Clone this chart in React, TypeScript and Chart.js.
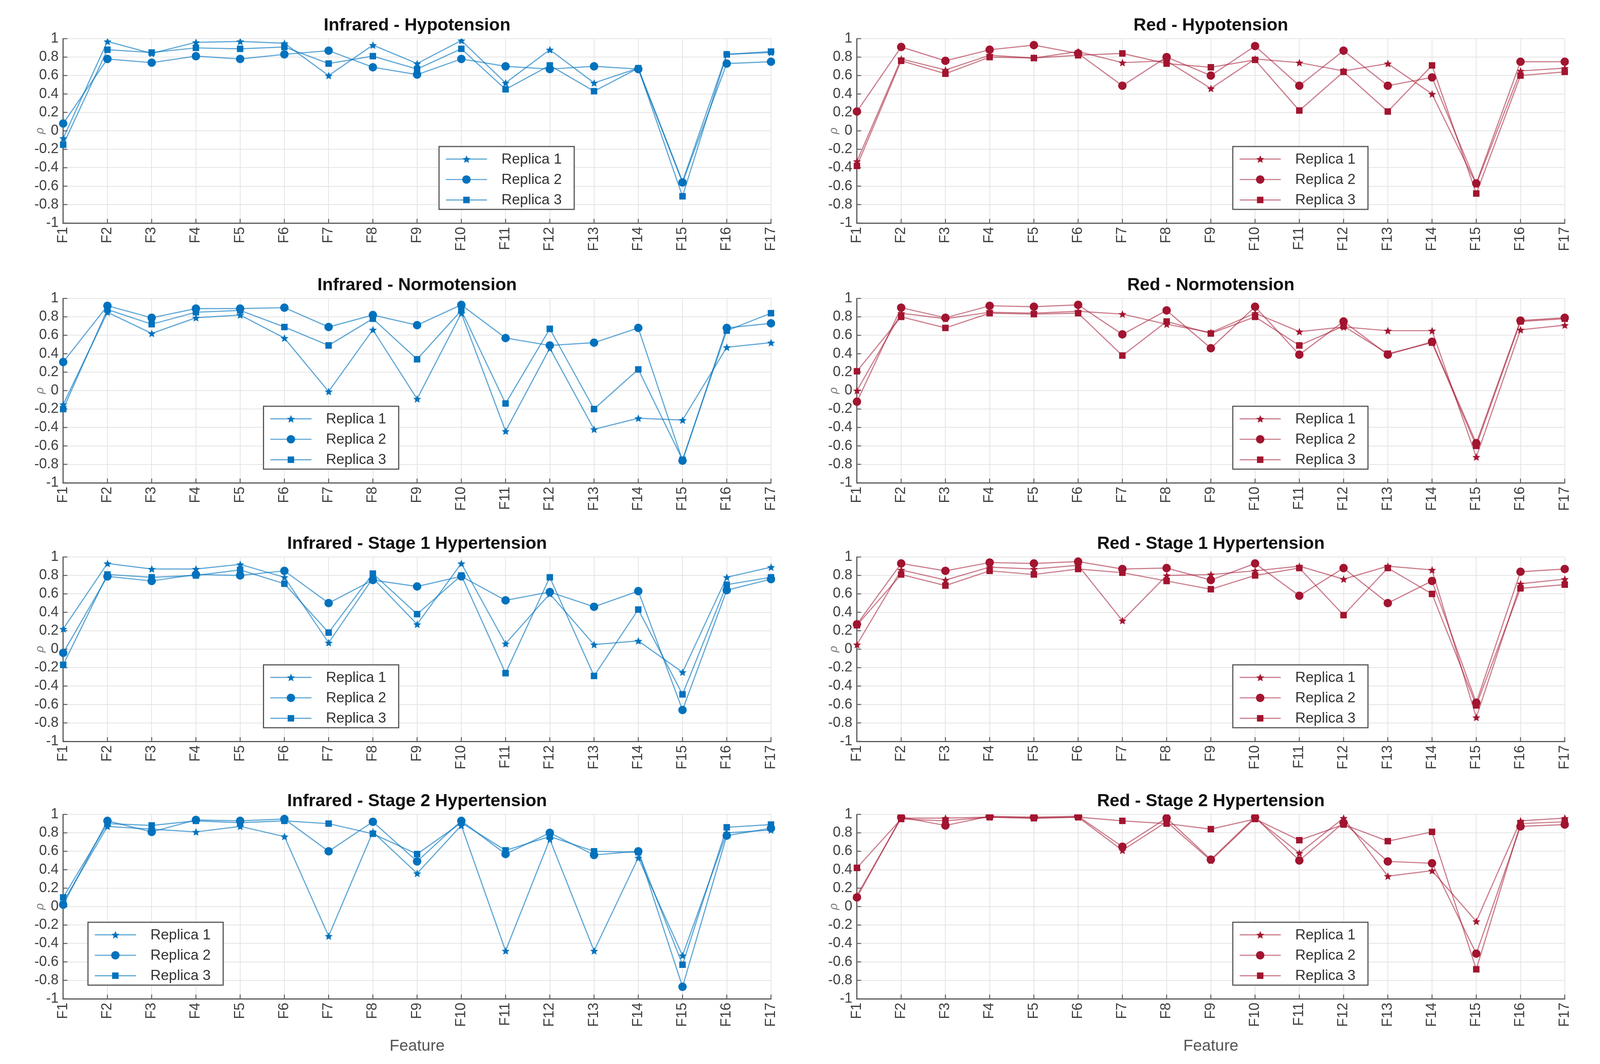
import React, { useEffect, useRef } from "react";
import { Chart, registerables } from "chart.js";

Chart.register(...registerables);

// ---------- data ----------
const FEATURES = ["F1", "F2", "F3", "F4", "F5", "F6", "F7", "F8", "F9", "F10", "F11", "F12", "F13", "F14", "F15", "F16", "F17"];
const REPLICAS = ["Replica 1", "Replica 2", "Replica 3"];

// Infrared - Hypotension
const irHypoR1 = [-0.08, 0.97, 0.84, 0.96, 0.97, 0.95, 0.6, 0.93, 0.73, 0.98, 0.52, 0.88, 0.52, 0.68, -0.55, 0.83, 0.85];
const irHypoR2 = [0.08, 0.78, 0.74, 0.81, 0.78, 0.83, 0.87, 0.69, 0.61, 0.78, 0.7, 0.67, 0.7, 0.67, -0.56, 0.73, 0.75];
const irHypoR3 = [-0.15, 0.88, 0.85, 0.9, 0.89, 0.91, 0.73, 0.81, 0.67, 0.89, 0.45, 0.71, 0.43, 0.68, -0.71, 0.83, 0.86];

// Red - Hypotension
const redHypoR1 = [-0.33, 0.78, 0.66, 0.82, 0.79, 0.86, 0.74, 0.76, 0.46, 0.78, 0.74, 0.65, 0.73, 0.4, -0.58, 0.65, 0.68];
const redHypoR2 = [0.21, 0.91, 0.76, 0.88, 0.93, 0.84, 0.49, 0.8, 0.6, 0.92, 0.49, 0.87, 0.49, 0.58, -0.57, 0.75, 0.75];
const redHypoR3 = [-0.38, 0.76, 0.62, 0.8, 0.79, 0.82, 0.84, 0.73, 0.69, 0.77, 0.22, 0.64, 0.21, 0.71, -0.68, 0.6, 0.64];

// Infrared - Normotension
const irNormoR1 = [-0.15, 0.85, 0.62, 0.79, 0.82, 0.57, -0.01, 0.66, -0.09, 0.84, -0.44, 0.46, -0.42, -0.3, -0.32, 0.47, 0.52];
const irNormoR2 = [0.31, 0.92, 0.79, 0.89, 0.89, 0.9, 0.69, 0.82, 0.71, 0.93, 0.57, 0.49, 0.52, 0.68, -0.76, 0.68, 0.73];
const irNormoR3 = [-0.2, 0.88, 0.72, 0.85, 0.87, 0.69, 0.49, 0.78, 0.34, 0.87, -0.14, 0.67, -0.2, 0.23, -0.75, 0.65, 0.84];

// Red - Normotension
const redNormoR1 = [0.0, 0.84, 0.78, 0.85, 0.84, 0.86, 0.83, 0.72, 0.63, 0.84, 0.64, 0.69, 0.65, 0.65, -0.72, 0.66, 0.71];
const redNormoR2 = [-0.12, 0.9, 0.79, 0.92, 0.91, 0.93, 0.61, 0.87, 0.46, 0.91, 0.39, 0.75, 0.39, 0.53, -0.57, 0.76, 0.79];
const redNormoR3 = [0.21, 0.8, 0.68, 0.84, 0.83, 0.84, 0.38, 0.75, 0.62, 0.8, 0.49, 0.7, 0.4, 0.52, -0.6, 0.75, 0.78];

// Infrared - Stage 1 Hypertension
const irS1R1 = [0.22, 0.93, 0.87, 0.87, 0.92, 0.78, 0.07, 0.77, 0.27, 0.93, 0.06, 0.6, 0.05, 0.09, -0.25, 0.78, 0.89];
const irS1R2 = [-0.04, 0.79, 0.74, 0.81, 0.8, 0.85, 0.5, 0.75, 0.68, 0.79, 0.53, 0.62, 0.46, 0.63, -0.66, 0.64, 0.76];
const irS1R3 = [-0.17, 0.81, 0.78, 0.8, 0.86, 0.71, 0.18, 0.82, 0.38, 0.8, -0.26, 0.78, -0.29, 0.43, -0.49, 0.7, 0.78];

// Red - Stage 1 Hypertension
const redS1R1 = [0.05, 0.86, 0.75, 0.89, 0.87, 0.91, 0.31, 0.8, 0.81, 0.85, 0.9, 0.76, 0.9, 0.86, -0.74, 0.71, 0.76];
const redS1R2 = [0.27, 0.93, 0.85, 0.94, 0.93, 0.95, 0.87, 0.88, 0.75, 0.93, 0.58, 0.88, 0.5, 0.74, -0.58, 0.84, 0.87];
const redS1R3 = [0.26, 0.81, 0.69, 0.85, 0.81, 0.87, 0.83, 0.74, 0.65, 0.8, 0.88, 0.37, 0.88, 0.6, -0.61, 0.66, 0.7];

// Infrared - Stage 2 Hypertension
const irS2R1 = [0.05, 0.87, 0.84, 0.81, 0.87, 0.76, -0.32, 0.81, 0.36, 0.88, -0.48, 0.73, -0.48, 0.53, -0.53, 0.8, 0.83];
const irS2R2 = [0.02, 0.93, 0.81, 0.94, 0.93, 0.95, 0.6, 0.92, 0.49, 0.93, 0.57, 0.8, 0.56, 0.6, -0.87, 0.77, 0.85];
const irS2R3 = [0.1, 0.9, 0.88, 0.93, 0.91, 0.93, 0.9, 0.79, 0.57, 0.91, 0.61, 0.76, 0.6, 0.59, -0.63, 0.86, 0.89];

// Red - Stage 2 Hypertension
const redS2R1 = [0.12, 0.96, 0.96, 0.97, 0.96, 0.97, 0.61, 0.92, 0.5, 0.96, 0.58, 0.96, 0.33, 0.39, -0.16, 0.93, 0.96];
const redS2R2 = [0.1, 0.97, 0.88, 0.98, 0.97, 0.98, 0.65, 0.96, 0.51, 0.97, 0.5, 0.91, 0.49, 0.47, -0.51, 0.87, 0.89];
const redS2R3 = [0.42, 0.95, 0.93, 0.97, 0.96, 0.97, 0.93, 0.9, 0.84, 0.95, 0.72, 0.89, 0.71, 0.81, -0.68, 0.9, 0.92];

// ---------- styling ----------
const FONT = "'Liberation Sans', Arial, Helvetica, sans-serif";
const GRID = "#e4e4e4";
const AXIS = "#5a5a5a";
const TICK = "#404040";
const PALETTE: Record<string, { mark: string; line: string }> = {
  blue: { mark: "#0072BD", line: "rgba(0,114,189,0.62)" },
  red: { mark: "#A2142F", line: "rgba(162,20,47,0.55)" },
};

const PANELS = [
  { title: "Infrared - Hypotension", series: [irHypoR1, irHypoR2, irHypoR3], color: "blue", legendFx: 0.531, row: 0, col: 0 },
  { title: "Red - Hypotension", series: [redHypoR1, redHypoR2, redHypoR3], color: "red", legendFx: 0.531, row: 0, col: 1 },
  { title: "Infrared - Normotension", series: [irNormoR1, irNormoR2, irNormoR3], color: "blue", legendFx: 0.283, row: 1, col: 0 },
  { title: "Red - Normotension", series: [redNormoR1, redNormoR2, redNormoR3], color: "red", legendFx: 0.531, row: 1, col: 1 },
  { title: "Infrared - Stage 1 Hypertension", series: [irS1R1, irS1R2, irS1R3], color: "blue", legendFx: 0.283, row: 2, col: 0 },
  { title: "Red - Stage 1 Hypertension", series: [redS1R1, redS1R2, redS1R3], color: "red", legendFx: 0.531, row: 2, col: 1 },
  { title: "Infrared - Stage 2 Hypertension", series: [irS2R1, irS2R2, irS2R3], color: "blue", legendFx: 0.035, row: 3, col: 0 },
  { title: "Red - Stage 2 Hypertension", series: [redS2R1, redS2R2, redS2R3], color: "red", legendFx: 0.531, row: 3, col: 1 },
];

// layout in reference pixels (scaled to the actual viewport)
const REF_W = 4203;
const REF_H = 2724;
const ROW_PLOT_TOP = [99, 764, 1426, 2085];
const PLOT_H = 472;
const TITLE_BLOCK = 78;
const COL_LEFT = [0, 2085];
const CANVAS_W = 2080;
const Y_AXIS_W = 156;
const PAD_L = 10;
const PAD_R = 22;

function getScales() {
  const w = window.innerWidth || REF_W;
  const h = window.innerHeight || REF_H;
  return { SX: Math.min(1, w / REF_W), SY: Math.min(1, h / REF_H) };
}

function makeStar(color: string, size: number): HTMLCanvasElement {
  const c = document.createElement("canvas");
  c.width = Math.round(size);
  c.height = Math.round(size);
  const ctx = c.getContext("2d")!;
  const cx = size / 2;
  const cy = size / 2 + size * 0.04;
  const R = size / 2;
  const r = R * 0.45;
  ctx.beginPath();
  for (let i = 0; i < 10; i++) {
    const a = -Math.PI / 2 + (i * Math.PI) / 5;
    const rad = i % 2 === 0 ? R : r;
    ctx.lineTo(cx + rad * Math.cos(a), cy + rad * Math.sin(a));
  }
  ctx.closePath();
  ctx.fillStyle = color;
  ctx.fill();
  return c;
}

function drawMarker(ctx: CanvasRenderingContext2D, kind: number, x: number, y: number, color: string, star: HTMLCanvasElement, S: number) {
  ctx.fillStyle = color;
  if (kind === 0) {
    ctx.drawImage(star, x - star.width / 2, y - star.height / 2);
  } else if (kind === 1) {
    ctx.beginPath();
    ctx.arc(x, y, 11 * S, 0, Math.PI * 2);
    ctx.fill();
  } else {
    ctx.fillRect(x - 8.5 * S, y - 8.5 * S, 17 * S, 17 * S);
  }
}

const matlabPlugin = {
  id: "matlabDecor",
  beforeDatasetsDraw(chart: any, _args: any, opts: any) {
    const { ctx, chartArea: a, scales } = chart;
    const S = opts.S;
    ctx.save();
    ctx.strokeStyle = AXIS;
    ctx.lineWidth = 2.5 * S;
    const xs = scales.x;
    xs.ticks.forEach((_t: any, i: number) => {
      const px = xs.getPixelForTick(i);
      ctx.beginPath();
      ctx.moveTo(px, a.bottom);
      ctx.lineTo(px, a.bottom - 11 * S);
      ctx.stroke();
    });
    const ys = scales.y;
    ys.ticks.forEach((_t: any, i: number) => {
      const py = ys.getPixelForTick(i);
      ctx.beginPath();
      ctx.moveTo(a.left, py);
      ctx.lineTo(a.left + 11 * S, py);
      ctx.stroke();
    });
    ctx.restore();
  },
  afterDatasetsDraw(chart: any, _args: any, opts: any) {
    const { ctx, chartArea: a } = chart;
    const S = opts.S;
    const SY = opts.SY;
    const w = a.right - a.left;
    const h = a.bottom - a.top;
    // title centred over the plot area (MATLAB style)
    ctx.save();
    ctx.fillStyle = "#111111";
    ctx.font = `bold ${46 * S}px ${FONT}`;
    ctx.textAlign = "center";
    ctx.textBaseline = "middle";
    ctx.fillText(opts.title, a.left + w / 2, a.top - 33 * SY);
    // legend box
    const x0 = a.left + opts.fx * w;
    const y0 = a.top + 0.585 * h;
    const bw = 0.191 * w;
    const bh = (0.926 - 0.585) * h;
    ctx.fillStyle = "#ffffff";
    ctx.fillRect(x0, y0, bw, bh);
    ctx.strokeStyle = "#555555";
    ctx.lineWidth = 3 * S;
    ctx.strokeRect(x0, y0, bw, bh);
    chart.data.datasets.forEach((ds: any, i: number) => {
      const cy = y0 + bh * (0.2 + 0.325 * i);
      ctx.strokeStyle = opts.line;
      ctx.lineWidth = 3 * S;
      ctx.beginPath();
      ctx.moveTo(x0 + 18 * S, cy);
      ctx.lineTo(x0 + 126 * S, cy);
      ctx.stroke();
      drawMarker(ctx, i, x0 + 72 * S, cy, opts.mark, opts.star, S);
      ctx.fillStyle = "#333333";
      ctx.font = `${38 * S}px ${FONT}`;
      ctx.textAlign = "left";
      ctx.textBaseline = "middle";
      ctx.fillText(ds.label, x0 + 164 * S, cy + 1 * SY);
    });
    ctx.restore();
  },
};

type PanelCfg = (typeof PANELS)[number];

function Panel({ cfg, SX, SY }: { cfg: PanelCfg; SX: number; SY: number }) {
  const ref = useRef<HTMLCanvasElement>(null);
  const isBottom = cfg.row === 3;
  const xAxisH = (isBottom ? 160 : 80) * SY;
  const width = Math.round(CANVAS_W * SX);
  const height = Math.round((TITLE_BLOCK + PLOT_H) * SY + xAxisH);
  const top = Math.round((ROW_PLOT_TOP[cfg.row] - TITLE_BLOCK) * SY);
  const left = Math.round(COL_LEFT[cfg.col] * SX);
  const S = SX;

  useEffect(() => {
    const pal = PALETTE[cfg.color];
    const star = makeStar(pal.mark, 22 * S);
    const styles: any[] = [star, "circle", "rect"];
    const radii = [11 * S, 11 * S, 12 * S];
    const chart = new Chart(ref.current!, {
      type: "line",
      data: {
        labels: FEATURES,
        datasets: cfg.series.map((d, i) => ({
          label: REPLICAS[i],
          data: d,
          borderColor: pal.line,
          backgroundColor: pal.mark,
          borderWidth: 3 * S,
          pointStyle: styles[i],
          pointRadius: radii[i],
          pointBackgroundColor: pal.mark,
          pointBorderColor: pal.mark,
          pointBorderWidth: 0,
          tension: 0,
          fill: false,
          order: 3 - i,
        })),
      },
      options: {
        responsive: false,
        maintainAspectRatio: false,
        animation: false,
        devicePixelRatio: 1,
        layout: { padding: { left: PAD_L * SX, right: PAD_R * SX, top: TITLE_BLOCK * SY, bottom: 0 } },
        plugins: {
          legend: { display: false },
          tooltip: { enabled: false },
          title: { display: false },
          matlabDecor: { fx: cfg.legendFx, line: pal.line, mark: pal.mark, star, S, SY, title: cfg.title },
        } as any,
        scales: {
          x: {
            type: "category",
            offset: false,
            grid: { color: GRID, lineWidth: 2 * S, drawTicks: false },
            border: { display: true, color: AXIS, width: 3 * S },
            ticks: {
              autoSkip: false,
              maxRotation: 90,
              minRotation: 90,
              padding: 10 * SY,
              color: TICK,
              font: { family: FONT, size: 37 * S },
            },
            title: {
              display: isBottom,
              text: "Feature",
              color: "#555555",
              font: { family: FONT, size: 42 * S },
              padding: { top: 0, bottom: 14 * SY },
            },
            afterFit: (s: any) => {
              s.height = xAxisH;
            },
          },
          y: {
            min: -1,
            max: 1,
            grid: { color: GRID, lineWidth: 2 * S, drawTicks: false },
            border: { display: true, color: AXIS, width: 3 * S },
            ticks: {
              stepSize: 0.2,
              autoSkip: false,
              padding: 12 * SX,
              color: TICK,
              font: { family: FONT, size: 37 * S },
              callback: (v: any) => String(Math.round(Number(v) * 10) / 10),
            },
            title: {
              display: true,
              text: "ρ",
              color: "#777777",
              font: { family: FONT, size: 30 * S, style: "italic" },
              padding: { top: 78 * SX, bottom: 0 },
            },
            afterFit: (s: any) => {
              s.width = Y_AXIS_W * SX;
            },
          },
        },
      } as any,
      plugins: [matlabPlugin],
    });
    return () => chart.destroy();
  }, []);

  return (
    <canvas
      ref={ref}
      width={width}
      height={height}
      style={{ position: "absolute", left, top, width, height }}
    />
  );
}

export default function App() {
  const { SX, SY } = getScales();
  return (
    <div style={{ position: "absolute", left: 0, top: 0, width: REF_W * SX, height: REF_H * SY, background: "#ffffff", overflow: "hidden" }}>
      {PANELS.map((p) => (
        <Panel key={p.title} cfg={p} SX={SX} SY={SY} />
      ))}
    </div>
  );
}
